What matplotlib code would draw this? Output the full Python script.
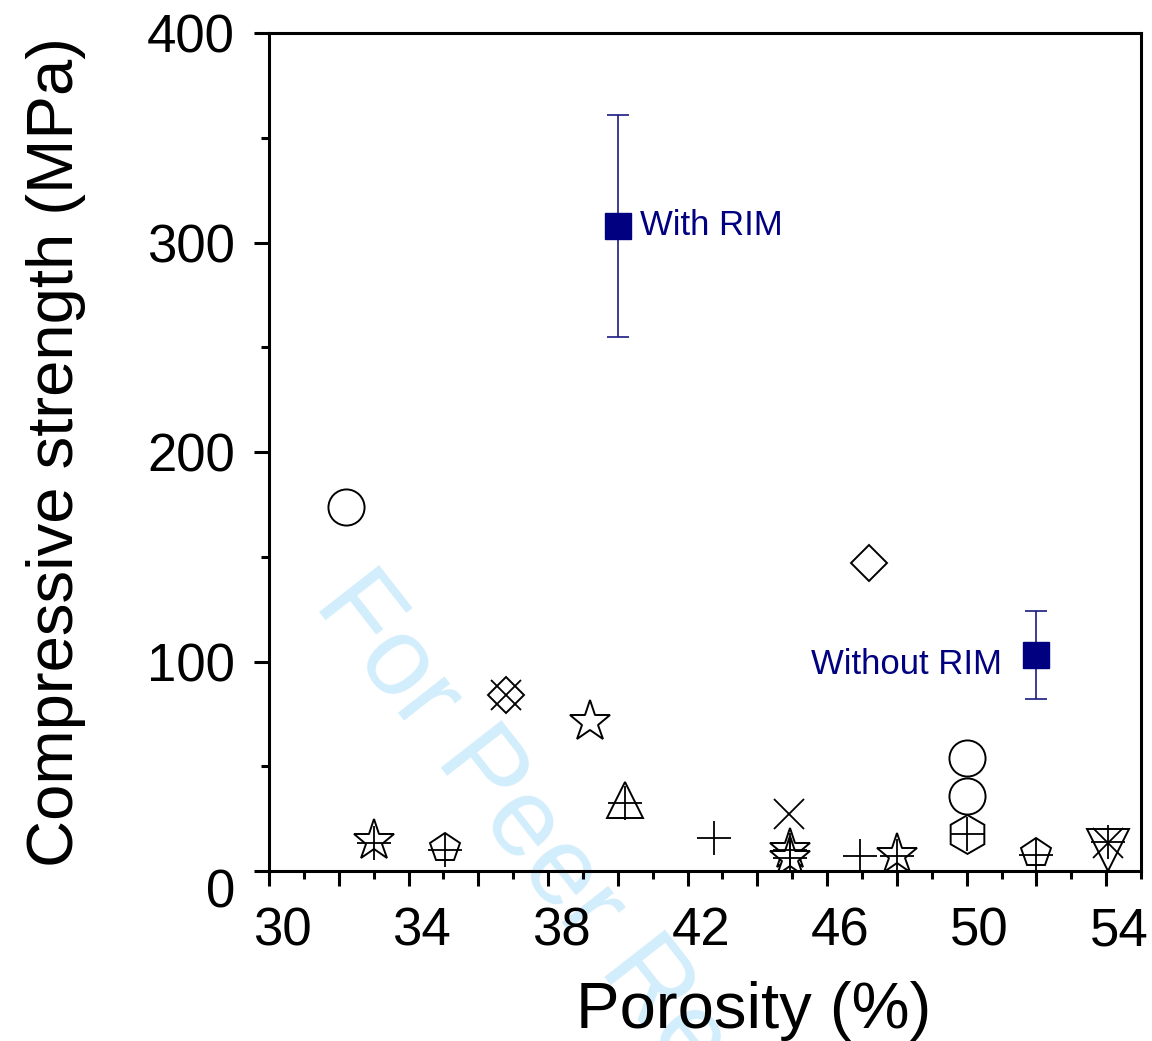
import matplotlib
matplotlib.use("Agg")
import matplotlib.pyplot as plt
from matplotlib.ticker import MultipleLocator, FuncFormatter
from matplotlib.transforms import ScaledTranslation

plt.rcParams["font.family"] = ["Liberation Sans", "DejaVu Sans"]

# ── data (porosity %, compressive strength MPa) ─────────────────────────────
rim_x     = [40.0, 52.0]
rim_y     = [308, 103]
rim_err   = [53, 21]
rim_label = ["With RIM", "Without RIM"]

circle_x   = [32.2, 50.0, 50.0]
circle_y   = [174, 54, 36]
diamond_x  = [47.2, 36.8]
diamond_y  = [147, 84]
star_x     = [39.2, 33.0, 44.95, 44.95, 48.0]
star_y     = [71, 14.5, 10, 6, 7.5]
triup_x    = [40.2]
triup_y    = [34]
pent_x     = [35.05, 52.0]
pent_y     = [11, 8.6]
hex_x      = [50.0]
hex_y      = [17.6]
tridown_x  = [54.05]
tridown_y  = [10]
plus_x     = [33.0, 35.05, 40.2, 42.75, 44.95, 44.95, 46.95, 48.0, 50.0, 52.0, 54.05]
plus_y     = [13.5, 10, 32.5, 15.7, 10, 6, 7.2, 7, 17.6, 7.5, 14]
cross_x    = [36.8, 44.9, 54.05]
cross_y    = [84, 27, 13.5]

NAVY = "#000080"

fig = plt.figure(figsize=(11.52, 10.41), dpi=100)
ax = fig.add_axes([0.2335, 0.1633, 0.757, 0.8047])
ax.patch.set_facecolor("none")

open_kw = dict(linestyle="none", markerfacecolor="white", markeredgecolor="black",
               markeredgewidth=1.4)
ax.plot(circle_x, circle_y, marker="o", markersize=26, **open_kw)
ax.plot(diamond_x, diamond_y, marker="D", markersize=18, **open_kw)
ax.plot(star_x, star_y, marker="*", markersize=31, **open_kw)
ax.plot(triup_x, triup_y, marker="^", markersize=26, **open_kw)
ax.plot(pent_x, pent_y, marker="p", markersize=22, **open_kw)
ax.plot(hex_x, hex_y, marker="h", markersize=28, **open_kw)
ax.plot(tridown_x, tridown_y, marker="v", markersize=30, **open_kw)
ax.plot(plus_x, plus_y, marker="+", markersize=24, linestyle="none",
        markeredgecolor="black", markeredgewidth=1.3)
ax.plot(cross_x, cross_y, marker="x", markersize=22, linestyle="none",
        markeredgecolor="black", markeredgewidth=1.3)

ax.errorbar(rim_x, rim_y, yerr=rim_err, fmt="s", color=NAVY, markersize=19,
            ecolor="#1a1a80", elinewidth=1.2, capsize=8, capthick=1.2, zorder=5)

ax.text(rim_x[0] + 0.65, rim_y[0], rim_label[0], color=NAVY, fontsize=25,
        ha="left", va="center")
ax.text(rim_x[1] - 1.0, rim_y[1] - 4.5, rim_label[1], color=NAVY, fontsize=25,
        ha="right", va="center")

# ── axes ─────────────────────────────────────────────────────────────────────
ax.set_xlim(30, 55)
ax.set_ylim(0, 400)
ax.xaxis.set_major_locator(MultipleLocator(2))
ax.xaxis.set_minor_locator(MultipleLocator(1))
ax.xaxis.set_major_formatter(FuncFormatter(lambda v, p: f"{v:.0f}" if round(v) % 4 == 2 else ""))
ax.yaxis.set_major_locator(MultipleLocator(100))
ax.yaxis.set_minor_locator(MultipleLocator(50))

for s in ax.spines.values():
    s.set_linewidth(2.2)
ax.tick_params(axis="both", which="major", direction="out", width=2.2,
               labelsize=38, length=10.5)
ax.tick_params(axis="both", which="minor", direction="out", width=2.2, length=5.5)
ax.tick_params(axis="x", which="major", pad=15)
ax.tick_params(axis="y", which="major", pad=14)

shift = ScaledTranslation(0.13, 0, fig.dpi_scale_trans)
for lab in ax.get_xticklabels():
    lab.set_transform(lab.get_transform() + shift)

fig.canvas.draw()
for t, lab in zip(ax.get_yticks(), ax.get_yticklabels()):
    if t == 0:
        lab.set_transform(lab.get_transform() + ScaledTranslation(0, -0.17, fig.dpi_scale_trans))

ax.set_xlabel("Porosity (%)", fontsize=47, labelpad=18, x=0.556)
ax.set_ylabel("Compressive strength (MPa)", fontsize=47, labelpad=44)

# watermark, behind everything
fig.text(0.2717, 0.4198, "For Peer Review", fontsize=80, color="#d2edfb",
         rotation=-52, rotation_mode="anchor", ha="left", va="baseline", zorder=-1)

fig.savefig("out.png", dpi=100, facecolor="white")
